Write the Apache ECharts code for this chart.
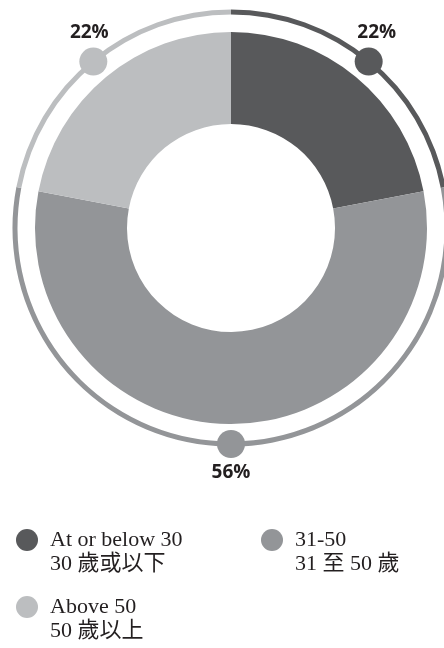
<!DOCTYPE html>
<html>
<head>
<meta charset="utf-8">
<script src="https://cdn.jsdelivr.net/npm/echarts@6/dist/echarts.min.js"></script>
<style>
html,body{margin:0;padding:0;background:#fff;}
#chart{width:444px;height:648px;}
</style>
</head>
<body>
<div id="chart"></div>
<script>
const categories = ['At or below 30', '31-50', 'Above 50'];
const categoriesZh = ['30 歲或以下', '31 至 50 歲', '50 歲以上'];
const values = [22, 56, 22];
const colors = ['#58595b', '#939598', '#bcbec0'];

const total = values.reduce((a, b) => a + b, 0);
let acc = 0;
const mids = values.map(v => { const m = acc + v / 2; acc += v; return m / total * 100; });

const textColor = '#231f20';
const center = [231, 228];

const pieData = categories.map((c, i) => ({ name: c, value: values[i], itemStyle: { color: colors[i] } }));
const labelPos = ['top', 'bottom', 'top'];
const labelOff = [[8, 0], [0, 0], [-4, 0]];
const dotData = values.map((v, i) => ({
  value: [1, mids[i]],
  itemStyle: { color: colors[i], opacity: 1 },
  label: { position: labelPos[i], offset: labelOff[i] }
}));

const legendPos = [[16, 504], [261, 504], [16, 571]];
const legends = categories.map((c, i) => ({
  data: [{ name: c, icon: 'circle' }],
  left: legendPos[i][0],
  top: legendPos[i][1],
  padding: 0,
  itemWidth: 22,
  itemHeight: 22,
  selectedMode: false,
  formatter: name => '\n' + name + '\n' + categoriesZh[categories.indexOf(name)],
  textStyle: {
    fontFamily: "'Liberation Serif', 'Noto Sans CJK TC', serif",
    fontSize: 22,
    lineHeight: 24,
    color: textColor,
    padding: [0, 0, 0, 7]
  }
}));

const chart = echarts.init(document.getElementById('chart'), null, { renderer: 'canvas' });
chart.setOption({
  animation: false,
  backgroundColor: '#ffffff',
  legend: legends,
  polar: { center: center, radius: 216 },
  angleAxis: { type: 'value', min: 0, max: 100, startAngle: 90, clockwise: true, show: false },
  radiusAxis: { type: 'value', min: 0, max: 1, show: false },
  series: [
    {
      type: 'pie',
      center: center,
      radius: [104, 196],
      startAngle: 90,
      clockwise: true,
      silent: true,
      label: { show: false },
      labelLine: { show: false },
      data: pieData
    },
    {
      type: 'pie',
      center: center,
      radius: [213.5, 218.5],
      startAngle: 90,
      clockwise: true,
      silent: true,
      label: { show: false },
      labelLine: { show: false },
      data: pieData
    },
    {
      type: 'scatter',
      coordinateSystem: 'polar',
      symbol: 'circle',
      symbolSize: 28,
      silent: true,
      itemStyle: { opacity: 1 },
      label: {
        show: true,
        distance: 5,
        formatter: p => values[p.dataIndex] + '%',
        fontFamily: "'Open Sans', sans-serif",
        fontWeight: 'bold',
        fontSize: 19,
        color: textColor
      },
      data: dotData
    }
  ]
});
</script>
</body>
</html>
